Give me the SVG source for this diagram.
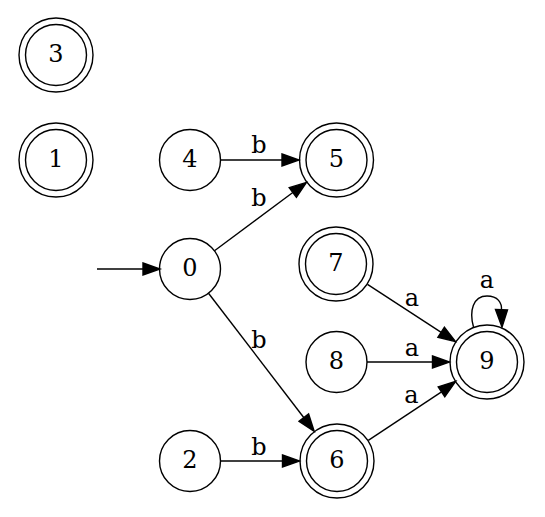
<svg xmlns="http://www.w3.org/2000/svg" width="545" height="517" viewBox="0 0 545 517">
<defs>
<style>
.n circle{fill:none;stroke:#000;stroke-width:1.4}
text{font-family:"DejaVu Serif","Liberation Serif",serif;font-size:24px;text-anchor:middle;fill:#000}
.e path{fill:none;stroke:#000;stroke-width:1.4}
.e polygon{fill:#000;stroke:#000;stroke-width:1.4}
</style>
</defs>
<rect width="545" height="517" fill="#fff"/>
<g id="node3" class="n"><circle cx="56" cy="55" r="30.5"/><circle cx="56" cy="55" r="37"/><text x="56" y="62">3</text></g>
<g id="node1" class="n"><circle cx="56" cy="160" r="30.5"/><circle cx="56" cy="160" r="37"/><text x="56" y="167">1</text></g>
<g id="node4" class="n"><circle cx="190" cy="160" r="30.5"/><text x="190" y="167">4</text></g>
<g id="node5" class="n"><circle cx="336.5" cy="160" r="30.5"/><circle cx="336.5" cy="160" r="37"/><text x="336.5" y="167">5</text></g>
<g id="node0" class="n"><circle cx="190" cy="269" r="30.5"/><text x="190" y="276">0</text></g>
<g id="node7" class="n"><circle cx="336" cy="264" r="30.5"/><circle cx="336" cy="264" r="37"/><text x="336" y="271">7</text></g>
<g id="node8" class="n"><circle cx="336.5" cy="362" r="30.5"/><text x="336.5" y="369">8</text></g>
<g id="node9" class="n"><circle cx="487" cy="362" r="30.5"/><circle cx="487" cy="362" r="37"/><text x="487" y="369">9</text></g>
<g id="node2" class="n"><circle cx="190" cy="461" r="30.5"/><text x="190" y="468">2</text></g>
<g id="node6" class="n"><circle cx="337" cy="461" r="30.5"/><circle cx="337" cy="461" r="37"/><text x="337" y="468">6</text></g>
<g id="edges" class="e">
<path d="M97,269 L143,269"/><polygon points="143,263 160,269 143,275"/>
<path d="M220.5,160 L282,160"/><polygon points="282,154 299,160 282,166"/>
<text x="259" y="153">b</text>
<path d="M214.5,250.8 L292.8,192.5"/><polygon points="289.2,187.7 306.4,182.4 296.4,197.3"/>
<text x="259" y="206">b</text>
<path d="M208.5,293.2 L303.9,417.7"/><polygon points="299.1,421.3 314.2,431.2 308.6,414"/>
<text x="259" y="348">b</text>
<path d="M220.5,461 L282.5,461"/><polygon points="282.5,455 299.5,461 282.5,467"/>
<text x="259" y="455">b</text>
<path d="M367.5,284.4 L441.2,332.3"/><polygon points="437.9,337.3 455.5,341.6 444.4,327.3"/>
<text x="412" y="306">a</text>
<path d="M367,362 L432.5,362"/><polygon points="432.5,356 449.5,362 432.5,368"/>
<text x="412" y="356">a</text>
<path d="M368.3,440.3 L441.5,391.8"/><polygon points="438.2,386.8 455.7,381.4 444.8,396.8"/>
<text x="411.5" y="403">a</text>
<path d="M473.5,327 C469,311 473,296 487,296 C498,296 502,303 501.5,310"/><polygon points="495.5,309.5 507.5,310 502,327"/>
<text x="487" y="288">a</text>
</g>
</svg>
